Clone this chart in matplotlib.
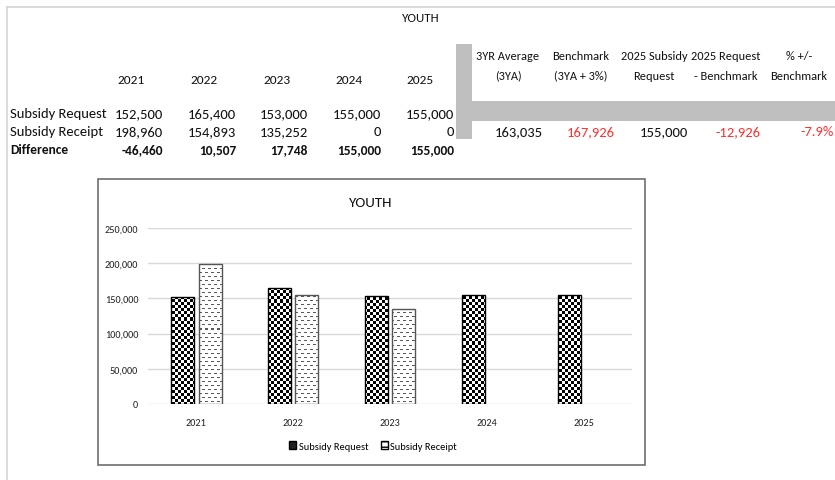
import numpy as np
import matplotlib
matplotlib.use("Agg")
import matplotlib.pyplot as plt
from matplotlib.patches import Rectangle, Patch
from matplotlib.lines import Line2D

# ---------------- data ----------------
years = ["2021", "2022", "2023", "2024", "2025"]
row_labels = ["Subsidy Request", "Subsidy Receipt", "Difference"]
subsidy_request = [152500, 165400, 153000, 155000, 155000]
subsidy_receipt = [198960, 154893, 135252, 0, 0]
difference = [-46460, 10507, 17748, 155000, 155000]

summary_headers = ["3YR Average\n(3YA)", "Benchmark\n(3YA + 3%)", "2025 Subsidy\nRequest",
                   "2025 Request\n- Benchmark", "% +/-\nBenchmark"]
summary_values = ["163,035", "167,926", "155,000", "-12,926", "-7.9%"]
summary_red = [False, True, False, True, True]

y_ticks = [0, 50000, 100000, 150000, 200000, 250000]
title = "YOUTH"

# ---------------- figure ----------------
W, H = 835, 481
plt.rcParams['font.family'] = ['Carlito', 'Lato', 'DejaVu Sans']
fig = plt.figure(figsize=(W / 100, H / 100), dpi=100)
fig.patch.set_facecolor("white")


def px(x, y):
    return x / W, 1 - y / H


def ftext(x, y, s, **kw):
    fx, fy = px(x, y)
    fig.text(fx, fy, s, **kw)


# sheet frame lines
fig.add_artist(Line2D([7 / W, 1], [1 - 8 / H, 1 - 8 / H], color="#d4d4d4", lw=1.2))
fig.add_artist(Line2D([7 / W, 7 / W], [0, 1 - 8 / H], color="#d4d4d4", lw=1.2))

# grey separator block
gray = "#bfbfbf"
fig.add_artist(Rectangle(px(456, 140), 16 / W, (140 - 45) / H, transform=fig.transFigure,
                         facecolor=gray, edgecolor="none"))
fig.add_artist(Rectangle(px(472, 122), (W - 472) / W, 20 / H, transform=fig.transFigure,
                         facecolor=gray, edgecolor="none"))

TFS = 10.5
HFS = 8.9
BFS = 9.6
ftext(421, 18, title, ha="center", va="center", fontsize=9.3, color="#111111")

# year headers
year_centers = [131, 204, 277, 349, 420]
for xc, yr in zip(year_centers, years):
    ftext(xc, 81, yr, ha="center", va="center", fontsize=9.6, color="#111111")

# row labels and values
row_ys = [114, 132, 150]
col_right = [163, 236, 308, 381, 454]
rows = [subsidy_request, subsidy_receipt, difference]
for i, (lab, yy, vals) in enumerate(zip(row_labels, row_ys, rows)):
    weight = "bold" if i == 2 else "normal"
    fs = BFS if i == 2 else TFS
    ftext(10, yy, lab, ha="left", va="center", fontsize=fs, color="#111111", fontweight=weight)
    for xr, v in zip(col_right, vals):
        ftext(xr, yy, f"{v:,}", ha="right", va="center", fontsize=fs, color="#111111",
              fontweight=weight)

# summary block
head_centers = [508, 581, 654, 726, 799]
val_right = [543, 615, 688, 761, 834]
for xc, hd in zip(head_centers, summary_headers):
    l1, l2 = hd.split("\n")
    ftext(xc, 57, l1, ha="center", va="center", fontsize=HFS, color="#111111")
    ftext(xc, 76, l2, ha="center", va="center", fontsize=HFS, color="#111111")
for xr, v, red in zip(val_right, summary_values, summary_red):
    ftext(xr, 132, v, ha="right", va="center", fontsize=TFS,
          color="#ff3030" if red else "#111111")

# chart frame (behind the axes)
fig.add_artist(Rectangle(px(98, 466), (645 - 98) / W, (466 - 180) / H, transform=fig.transFigure,
                         facecolor="white", edgecolor="#6e6e6e", lw=1.2, zorder=-1))
ftext(371, 203, title, ha="center", va="center", fontsize=10.8, color="#111111")

# axes
ax_l, ax_r, ax_t, ax_b = 148, 632, 229, 405
ax = fig.add_axes([ax_l / W, 1 - ax_b / H, (ax_r - ax_l) / W, (ax_b - ax_t) / H])
ax.set_facecolor("none")
for s in ax.spines.values():
    s.set_visible(False)
ax.set_ylim(0, 250000)
ax.set_xlim(-0.5, len(years) - 0.5)
ax.set_yticks(y_ticks)
ax.set_yticklabels([f"{t:,}" for t in y_ticks])
ax.yaxis.grid(True, color="#d9d9d9", lw=1)
ax.set_axisbelow(True)
ax.set_xticks(range(len(years)))
ax.set_xticklabels(years)
ax.tick_params(axis="both", length=0, labelsize=7.3, colors="#222222")
ax.tick_params(axis="y", pad=7)
ax.tick_params(axis="x", pad=10)

x = np.arange(len(years))
bw = 0.237
off = 0.142
bars_req = ax.bar(x - off, subsidy_request, width=bw, facecolor="none", edgecolor="black", lw=1, zorder=3)
bars_rec = ax.bar(x + off, subsidy_receipt, width=bw, facecolor="none", edgecolor="#555555", lw=1, zorder=3)

# pattern images at pixel resolution
pw, ph = ax_r - ax_l, ax_b - ax_t
rr, cc = np.mgrid[0:ph, 0:pw]
checker = (((rr // 3) + (cc // 3)) % 2).astype(float)  # 1 -> white, 0 -> black
dash = np.ones((ph, pw))
rowsel = (rr % 4 == 1)
shift = ((rr // 4) % 2) * 3
dmask = rowsel & (((cc + shift) % 6) < 3)
dash[dmask] = 0.35

for b in bars_req:
    im = ax.imshow(checker, extent=(0, 1, 0, 1), transform=ax.transAxes, cmap="gray",
                   vmin=0, vmax=1, interpolation="nearest", aspect="auto", zorder=2)
    im.set_clip_path(b)
for b, v in zip(bars_rec, subsidy_receipt):
    if v == 0:
        b.set_visible(False)
        continue
    im = ax.imshow(dash, extent=(0, 1, 0, 1), transform=ax.transAxes, cmap="gray",
                   vmin=0, vmax=1, interpolation="nearest", aspect="auto", zorder=2)
    im.set_clip_path(b)
ax.set_xlim(-0.5, len(years) - 0.5)
ax.set_ylim(0, 250000)

handles = [Patch(facecolor="#222222", edgecolor="black", label="Subsidy Request"),
           Patch(facecolor="white", edgecolor="black", hatch="---", label="Subsidy Receipt")]
fig.legend(handles=handles, loc="center", bbox_to_anchor=px(373, 447), ncol=2, frameon=False,
           fontsize=7.5, handlelength=0.7, handleheight=0.7, handletextpad=0.2, columnspacing=1.2)

fig.savefig("out.png", dpi=100, facecolor="white")
